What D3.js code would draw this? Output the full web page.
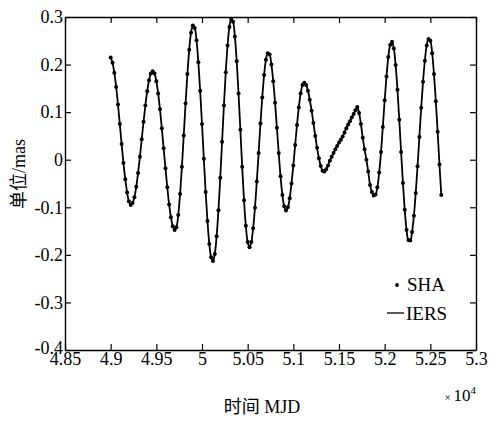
<!DOCTYPE html>
<html>
<head>
<meta charset="utf-8">
<script src="https://cdn.jsdelivr.net/npm/d3@7"></script>
<style>
  body { margin: 0; background: #fff; }
  text { font-family: "Liberation Serif", "Noto Sans CJK SC", serif; fill: #000; }
</style>
</head>
<body>
<div id="chart"></div>
<script>
// polar motion residual, every 20 days from MJD 49000
var startMJD = 49000, stepDays = 20;
var values = [
  0.215, 0.204, 0.183, 0.153, 0.116, 0.075, 0.033, -0.007, -0.041, -0.069,
  -0.088, -0.095, -0.091, -0.079, -0.057, -0.028, 0.006, 0.043, 0.080, 0.114,
  0.144, 0.167, 0.181, 0.186, 0.181, 0.165, 0.139, 0.106, 0.066, 0.024,
  -0.018, -0.058, -0.094, -0.121, -0.140, -0.148, -0.142, -0.116, -0.072, -0.015,
  0.051, 0.118, 0.180, 0.231, 0.267, 0.282, 0.277, 0.251, 0.205, 0.145,
  0.075, 0.002, -0.068, -0.129, -0.177, -0.205, -0.213, -0.198, -0.161, -0.106,
  -0.038, 0.038, 0.114, 0.184, 0.240, 0.279, 0.296, 0.290, 0.259, 0.207,
  0.139, 0.063, -0.015, -0.085, -0.139, -0.173, -0.184, -0.173, -0.144, -0.101,
  -0.046, 0.014, 0.076, 0.131, 0.178, 0.210, 0.224, 0.221, 0.200, 0.165,
  0.120, 0.067, 0.014, -0.035, -0.074, -0.098, -0.107, -0.100, -0.081, -0.050,
  -0.012, 0.031, 0.073, 0.110, 0.139, 0.157, 0.162, 0.157, 0.145, 0.126,
  0.103, 0.077, 0.050, 0.025, 0.003, -0.013, -0.023, -0.025, -0.020, -0.012,
  -0.002, 0.006, 0.014, 0.022, 0.029, 0.036, 0.042, 0.049, 0.057, 0.066,
  0.074, 0.081, 0.089, 0.096, 0.104, 0.111, 0.098, 0.075, 0.046, 0.022,
  0.000, -0.025, -0.053, -0.068, -0.075, -0.073, -0.058, -0.027, 0.016, 0.069,
  0.125, 0.175, 0.216, 0.241, 0.248, 0.234, 0.199, 0.147, 0.084, 0.016,
  -0.049, -0.105, -0.148, -0.169, -0.170, -0.152, -0.118, -0.070, -0.014, 0.048,
  0.109, 0.164, 0.208, 0.240, 0.254, 0.250, 0.224, 0.180, 0.123, 0.059,
  -0.010, -0.074
];
var xTicks = [48500, 49000, 49500, 50000, 50500, 51000, 51500, 52000, 52500, 53000];
var xTickLabels = ["4.85", "4.9", "4.95", "5", "5.05", "5.1", "5.15", "5.2", "5.25", "5.3"];
var yTicks = [-0.4, -0.3, -0.2, -0.1, 0, 0.1, 0.2, 0.3];
var yTickLabels = ["-0.4", "-0.3", "-0.2", "-0.1", "0", "0.1", "0.2", "0.3"];
var legendNames = ["SHA", "IERS"];

var data = values.map(function(v, i) { return { mjd: startMJD + i * stepDays, v: v }; });

var margin = { top: 17, right: 19, bottom: 71, left: 65 },
    width = 495 - margin.left - margin.right,
    height = 421 - margin.top - margin.bottom;

var svg = d3.select("#chart").append("svg")
  .attr("width", 495)
  .attr("height", 421);
var g = svg.append("g")
  .attr("transform", "translate(" + margin.left + "," + margin.top + ")");

var x = d3.scaleLinear().domain([48500, 53000]).range([0, width]);
var y = d3.scaleLinear().domain([-0.4, 0.3]).range([height, 0]);

// axes, ticks pointing inward on all four sides
var fmtX = function(d) { return xTickLabels[xTicks.indexOf(d)]; };
var fmtY = function(d) { return yTickLabels[yTicks.indexOf(d)]; };

var axB = g.append("g").attr("transform", "translate(0," + height + ")")
  .call(d3.axisBottom(x).tickValues(xTicks).tickFormat(fmtX).tickSizeInner(-6).tickSizeOuter(0).tickPadding(2));
var axT = g.append("g")
  .call(d3.axisTop(x).tickValues(xTicks).tickFormat("").tickSizeInner(-6).tickSizeOuter(0));
var axL = g.append("g")
  .call(d3.axisLeft(y).tickValues(yTicks).tickFormat(fmtY).tickSizeInner(-6).tickSizeOuter(0).tickPadding(2));
var axR = g.append("g").attr("transform", "translate(" + width + ",0)")
  .call(d3.axisRight(y).tickValues(yTicks).tickFormat("").tickSizeInner(-6).tickSizeOuter(0));

[axB, axT, axL, axR].forEach(function(a) {
  a.select(".domain").attr("stroke", "#000").attr("stroke-width", 1.4);
  a.selectAll(".tick line").attr("stroke", "#000").attr("stroke-width", 1.2);
  a.selectAll("text").style("font-size", "18px").attr("fill", "#000");
});
axL.selectAll("text").attr("dy", function(d) { return d === -0.4 ? "0.18em" : "0.32em"; });
axB.selectAll("text").attr("dy", "0.72em");

// IERS line
var line = d3.line()
  .x(function(d) { return x(d.mjd); })
  .y(function(d) { return y(d.v); })
  .curve(d3.curveCatmullRom);

g.append("path")
  .datum(data)
  .attr("fill", "none")
  .attr("stroke", "#000")
  .attr("stroke-width", 1.8)
  .attr("d", line);

// SHA points
g.selectAll(".pt")
  .data(data)
  .enter()
  .append("circle")
  .attr("class", "pt")
  .attr("cx", function(d) { return x(d.mjd); })
  .attr("cy", function(d) { return y(d.v); })
  .attr("r", 2)
  .attr("fill", "#000");

// legend
var lg = g.append("g").attr("transform", "translate(" + (width - 89) + "," + (height - 59) + ")");
lg.append("circle").attr("cx", 10).attr("cy", -6).attr("r", 1.9).attr("fill", "#000");
lg.append("text").attr("x", 20).attr("y", 0).style("font-size", "19px").text(legendNames[0]);
lg.append("line").attr("x1", 0).attr("x2", 17).attr("y1", 22).attr("y2", 22)
  .attr("stroke", "#000").attr("stroke-width", 1.3);
lg.append("text").attr("x", 19).attr("y", 29).style("font-size", "19px").text(legendNames[1]);

// axis titles
g.append("text")
  .attr("x", 197).attr("y", height + 63)
  .attr("text-anchor", "middle")
  .style("font-size", "18px")
  .text("时间 MJD");

g.append("text")
  .attr("transform", "rotate(-90)")
  .attr("x", -(157)).attr("y", -40)
  .attr("text-anchor", "middle")
  .style("font-size", "18px")
  .text("单位/mas");

var ex = g.append("text")
  .attr("x", width).attr("y", height + 51)
  .attr("text-anchor", "end")
  .style("font-size", "17px");
ex.append("tspan").style("font-size", "11px").text("× ");
ex.append("tspan").text("10");
ex.append("tspan").attr("dy", -7).style("font-size", "11px").text("4");
</script>
</body>
</html>
